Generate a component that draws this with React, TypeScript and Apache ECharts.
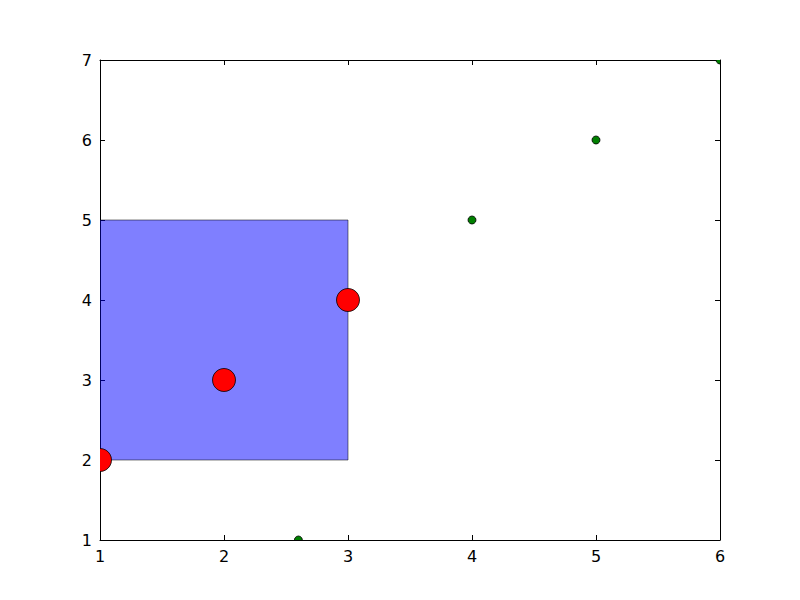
import React, { useEffect, useRef } from "react";
import * as echarts from "echarts";

const redX = [1, 2, 3];
const redY = [2, 3, 4];
const greenX = [2.6, 4, 5, 6];
const greenY = [1, 5, 6, 7];
const rectBounds = [[1, 2, 3, 5]]; // x0, y0, x1, y1
const xTicks = [1, 2, 3, 4, 5, 6];
const yTicks = [1, 2, 3, 4, 5, 6, 7];

export default function App() {
  const ref = useRef<HTMLDivElement>(null);
  useEffect(() => {
    const chart = echarts.init(ref.current!, null, { renderer: "svg" });
    const font = "DejaVu Sans";
    const baseAxis = (pos: string, showLabel: boolean, ticks: number[]) => ({
      type: "value",
      position: pos,
      min: ticks[0],
      max: ticks[ticks.length - 1],
      interval: 1,
      axisLine: { show: true, onZero: false, lineStyle: { color: "#000", width: 1 } },
      axisTick: { show: true, inside: true, length: 5, lineStyle: { color: "#000" } },
      axisLabel: { show: showLabel, color: "#000", fontSize: 16, fontFamily: font, margin: 8 },
      splitLine: { show: false },
    });
    const redData = redX.map((x, i) => [x, redY[i]]);
    const greenData = greenX.map((x, i) => [x, greenY[i]]);
    chart.setOption({
      animation: false,
      grid: { left: 100, right: 80, top: 60, bottom: 60, containLabel: false },
      xAxis: [
        { ...baseAxis("bottom", true, xTicks) },
        { ...baseAxis("top", false, xTicks) },
      ],
      yAxis: [
        { ...baseAxis("left", true, yTicks) },
        { ...baseAxis("right", false, yTicks) },
      ],
      series: [
        {
          type: "custom",
          clip: true,
          data: rectBounds,
          renderItem: (params: any, api: any) => {
            const p0 = api.coord([api.value(0), api.value(3)]);
            const p1 = api.coord([api.value(2), api.value(1)]);
            return {
              type: "rect",
              shape: { x: p0[0], y: p0[1], width: p1[0] - p0[0], height: p1[1] - p0[1] },
              style: { fill: "rgba(0,0,255,0.5)", stroke: "rgba(0,0,0,0.5)", lineWidth: 1 },
            };
          },
          z: 1,
        },
        {
          type: "custom",
          clip: true,
          data: redData,
          renderItem: (params: any, api: any) => {
            const p = api.coord([api.value(0), api.value(1)]);
            return {
              type: "circle",
              shape: { cx: p[0], cy: p[1], r: 11.5 },
              style: { fill: "#ff0000", stroke: "#000", lineWidth: 0.8 },
            };
          },
          z: 2,
        },
        {
          type: "custom",
          clip: true,
          data: greenData,
          renderItem: (params: any, api: any) => {
            const p = api.coord([api.value(0), api.value(1)]);
            return {
              type: "circle",
              shape: { cx: p[0], cy: p[1], r: 4 },
              style: { fill: "#008000", stroke: "#000", lineWidth: 0.8 },
            };
          },
          z: 3,
        },
      ],
    });
    return () => chart.dispose();
  }, []);
  return (
    <div
      ref={ref}
      style={{ position: "absolute", left: 0, top: 0, width: 800, height: 600, background: "#fff" }}
    />
  );
}
